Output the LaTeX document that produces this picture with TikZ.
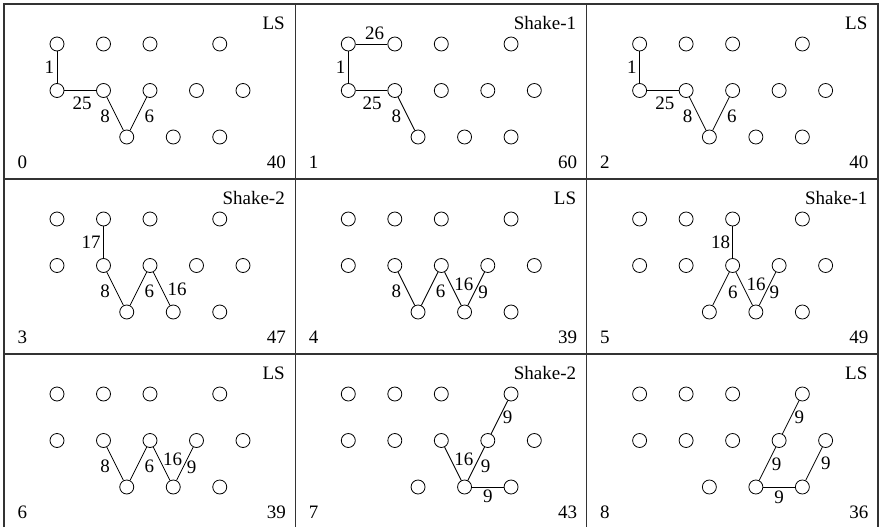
\documentclass[tikz,border=0pt]{standalone}
\usepackage{fontspec}
\setmainfont{Liberation Serif}
\usetikzlibrary{positioning}
\tikzstyle{dot} = [circle,draw,inner sep=0pt,minimum size=14pt,line width=0.8pt]
\tikzstyle{link} = [line width=0.8pt]
\tikzstyle{wt} = [inner sep=1pt]
\tikzstyle{frame} = [line width=1.3pt,black!80]

\begin{document}
\begin{tikzpicture}[x=1pt,y=1pt,font=\fontsize{19}{22}\selectfont]
\useasboundingbox (0,0) rectangle (880,-527);

% panels: step / column / row / move / cost
\foreach \k/\col/\row/\tag/\score in {0/0/0/LS/40,1/1/0/Shake-1/60,2/2/0/LS/40,
  3/0/1/Shake-2/47,4/1/1/LS/39,5/2/1/Shake-1/49,
  6/0/2/LS/39,7/1/2/Shake-2/43,8/2/2/LS/36}{
\begin{scope}[shift={(4+291.3*\col,-4-175*\row)}]
\foreach \i/\x in {0/53,1/99.5,2/146,3/215.75}{
	\node[dot] (p\k-t\i) at (\x,-40) {};
}
\foreach \i/\x in {0/53,1/99.5,2/146,3/192.5,4/239}{
	\node[dot] (p\k-m\i) at (\x,-86.5) {};
}
\foreach \i/\x in {0/122.75,1/169.25,2/215.75}{
	\node[dot] (p\k-b\i) at (\x,-133) {};
}
\node[anchor=base east,inner sep=0pt] (p\k-tag) at (281,-25.3) {\tag};
\node[anchor=base west,inner sep=0pt] (p\k-step) at (13.3,-164.3) {\k};
\node[anchor=base east,inner sep=0pt] (p\k-score) at (282,-164.3) {\score};
\end{scope}
}

% grid
\draw[frame] (4,-527) -- (4,-4) -- (878,-4) -- (878,-527);
\draw[frame] (295.3,-4) -- (295.3,-527);
\draw[frame] (586.6,-4) -- (586.6,-527);
\draw[frame] (4,-179) -- (878,-179);
\draw[frame] (4,-354) -- (878,-354);

% step 0
\draw[link] (p0-t0) -- node[wt,left=1.5pt] {1} (p0-m0);
\draw[link] (p0-m0) -- node[wt,below=5.5pt,pos=.56] {25} (p0-m1);
\draw[link] (p0-m1) -- node[wt,left=5pt,pos=.57] {8} (p0-b0);
\draw[link] (p0-b0) -- node[wt,right=6pt,pos=.43] {6} (p0-m2);

% step 1
\draw[link] (p1-t0) -- node[wt,above=3pt,pos=.6] {26} (p1-t1);
\draw[link] (p1-t0) -- node[wt,left=1.5pt] {1} (p1-m0);
\draw[link] (p1-m0) -- node[wt,below=5.5pt,pos=.52] {25} (p1-m1);
\draw[link] (p1-m1) -- node[wt,left=5pt,pos=.57] {8} (p1-b0);

% step 2
\draw[link] (p2-t0) -- node[wt,left=1.5pt] {1} (p2-m0);
\draw[link] (p2-m0) -- node[wt,below=5.5pt,pos=.56] {25} (p2-m1);
\draw[link] (p2-m1) -- node[wt,left=5pt,pos=.57] {8} (p2-b0);
\draw[link] (p2-b0) -- node[wt,right=6pt,pos=.43] {6} (p2-m2);

% step 3
\draw[link] (p3-t1) -- node[wt,left=1.5pt] {17} (p3-m1);
\draw[link] (p3-m1) -- node[wt,left=5pt,pos=.57] {8} (p3-b0);
\draw[link] (p3-b0) -- node[wt,right=6pt,pos=.43] {6} (p3-m2);
\draw[link] (p3-m2) -- node[wt,right=4pt,pos=.53] {16} (p3-b1);

% step 4
\draw[link] (p4-m1) -- node[wt,left=5pt,pos=.57] {8} (p4-b0);
\draw[link] (p4-b0) -- node[wt,right=6pt,pos=.43] {6} (p4-m2);
\draw[link] (p4-m2) -- node[wt,right=2pt,pos=.38] {16} (p4-b1);
\draw[link] (p4-b1) -- node[wt,right=2.5pt,pos=.39] {9} (p4-m3);

% step 5
\draw[link] (p5-t2) -- node[wt,left=1pt] {18} (p5-m2);
\draw[link] (p5-b0) -- node[wt,right=7.5pt,pos=.4] {6} (p5-m2);
\draw[link] (p5-m2) -- node[wt,right=3pt,pos=.38] {16} (p5-b1);
\draw[link] (p5-b1) -- node[wt,right=2.5pt,pos=.39] {9} (p5-m3);

% step 6
\draw[link] (p6-m1) -- node[wt,left=5pt,pos=.57] {8} (p6-b0);
\draw[link] (p6-b0) -- node[wt,right=6pt,pos=.43] {6} (p6-m2);
\draw[link] (p6-m2) -- node[wt,right=2pt,pos=.38] {16} (p6-b1);
\draw[link] (p6-b1) -- node[wt,right=2.5pt,pos=.39] {9} (p6-m3);

% step 7
\draw[link] (p7-t3) -- node[wt,right=2pt] {9} (p7-m3);
\draw[link] (p7-m2) -- node[wt,right=2pt,pos=.38] {16} (p7-b1);
\draw[link] (p7-b1) -- node[wt,right=4.5pt,pos=.43] {9} (p7-m3);
\draw[link] (p7-b1) -- node[wt,below=2pt] {9} (p7-b2);

% step 8
\draw[link] (p8-t3) -- node[wt,right=2.5pt] {9} (p8-m3);
\draw[link] (p8-b1) -- node[wt,right=3.5pt,pos=.47] {9} (p8-m3);
\draw[link] (p8-b1) -- node[wt,below=2.5pt] {9} (p8-b2);
\draw[link] (p8-b2) -- node[wt,right=5.5pt,pos=.52] {9} (p8-m4);
\end{tikzpicture}
\end{document}
